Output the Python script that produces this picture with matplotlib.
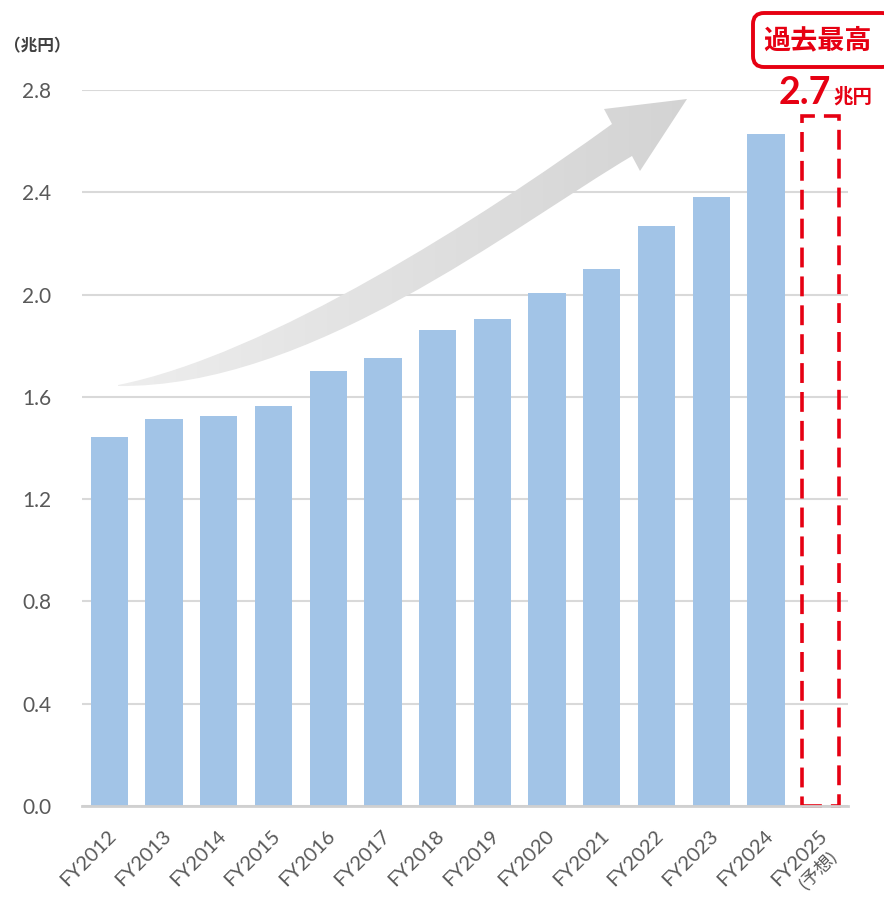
import numpy as np
import matplotlib
matplotlib.use("Agg")
import matplotlib.pyplot as plt
from matplotlib.path import Path
from matplotlib.patches import PathPatch, FancyBboxPatch
import matplotlib.transforms as mtransforms

plt.rcParams['font.family'] = ['Lato', 'Noto Sans CJK JP', 'DejaVu Sans']

# Data
years = ['FY2012', 'FY2013', 'FY2014', 'FY2015', 'FY2016', 'FY2017', 'FY2018',
         'FY2019', 'FY2020', 'FY2021', 'FY2022', 'FY2023', 'FY2024']
sales = [1.443, 1.513, 1.525, 1.564, 1.701, 1.752, 1.862,
         1.905, 2.006, 2.100, 2.268, 2.382, 2.628]
forecast_year = 'FY2025'
forecast_note = '(予想)'
forecast_value = 2.7
yticks = [0.0, 0.4, 0.8, 1.2, 1.6, 2.0, 2.4, 2.8]

bar_color = '#a2c4e7'
red = '#e60012'
gray_text = '#595959'

W, H = 884, 899
fig = plt.figure(figsize=(W / 100, H / 100), dpi=100)
ax = fig.add_axes([82 / W, 1 - 806 / H, 766 / W, 716 / H])

x = np.arange(len(years) + 1)
ax.bar(x[:-1], sales, width=0.68, color=bar_color, zorder=2)
ax.bar(x[-1], forecast_value, width=0.68, fill=False, edgecolor=red,
       linewidth=2.6, linestyle=(0, (5.5, 2.5)), zorder=3, clip_on=False)

ax.set_xlim(-0.5, len(x) - 0.5)
ax.set_ylim(0, 2.8)
ax.set_yticks(yticks)
ax.set_yticklabels([f'{v:.1f}' for v in yticks], fontsize=15, color=gray_text)
ax.tick_params(axis='y', length=0, pad=22)
ax.tick_params(axis='x', length=0, pad=15)
ax.grid(axis='y', color='#d9d9d9', linewidth=1.5, zorder=0)
ax.set_axisbelow(True)
for s in ['top', 'right', 'left']:
    ax.spines[s].set_visible(False)
ax.spines['bottom'].set_color('#d0d0d0')
ax.spines['bottom'].set_linewidth(2)
ax.spines['bottom'].set_zorder(4)

ax.set_xticks(x)
labels = ax.set_xticklabels(years + [forecast_year], rotation=45, ha='right',
                            va='top', rotation_mode='anchor', fontsize=14.5,
                            color=gray_text)
offset = mtransforms.ScaledTranslation(-2 / 100, 0, fig.dpi_scale_trans)
for lab in labels:
    lab.set_transform(lab.get_transform() + offset)
# second line of the forecast label
ax.annotate(forecast_note, xy=(x[-1], 0), xytext=(-3, -64),
            textcoords='offset pixels', rotation=45, ha='center', va='center',
            rotation_mode='anchor', fontsize=13, color=gray_text,
            annotation_clip=False)

# overlay in pixel coordinates for the decorations
ov = fig.add_axes([0, 0, 1, 1], zorder=5)
ov.set_xlim(0, W)
ov.set_ylim(H, 0)
ov.axis('off')
ov.patch.set_alpha(0)

# curved trend arrow
verts = [(118, 385), (268, 355), (482, 218), (612, 124),
         (604, 109), (687, 99), (640, 171), (632, 156),
         (512, 227), (310, 388), (118, 386), (118, 385)]
codes = [Path.MOVETO, Path.CURVE4, Path.CURVE4, Path.CURVE4,
         Path.LINETO, Path.LINETO, Path.LINETO, Path.LINETO,
         Path.CURVE4, Path.CURVE4, Path.CURVE4, Path.CLOSEPOLY]
arrow = PathPatch(Path(verts, codes), facecolor='none', edgecolor='none')
ov.add_patch(arrow)
grad = np.linspace(0, 1, 256).reshape(1, -1)
cmap = matplotlib.colors.LinearSegmentedColormap.from_list('g', ['#eeeeee', '#d3d3d3'])
img = ov.imshow(grad, cmap=cmap, extent=[110, 695, 395, 90], aspect='auto',
                interpolation='bilinear')
img.set_clip_path(arrow)
ov.set_xlim(0, W)
ov.set_ylim(H, 0)

# record box
box = FancyBboxPatch((753, 13), 140, 54, boxstyle='round,pad=0,rounding_size=11',
                     facecolor='white', edgecolor=red, linewidth=2.8)
ov.add_patch(box)
ov.text(818, 40, '過去最高', fontsize=19.5, fontweight='bold', color=red,
        ha='center', va='center', family=['Noto Sans CJK JP'])
ov.text(831, 104, '2.7', fontsize=27, fontweight='bold', color=red,
        ha='right', va='baseline')
ov.text(833, 103, '兆円', fontsize=14, fontweight='bold', color=red,
        ha='left', va='baseline', family=['Noto Sans CJK JP'])
ov.text(4, 46, '（兆円）', fontsize=12, fontweight='bold', color='#404040',
        ha='left', va='center', family=['Noto Sans CJK JP'])

fig.savefig('out.png', dpi=100)
